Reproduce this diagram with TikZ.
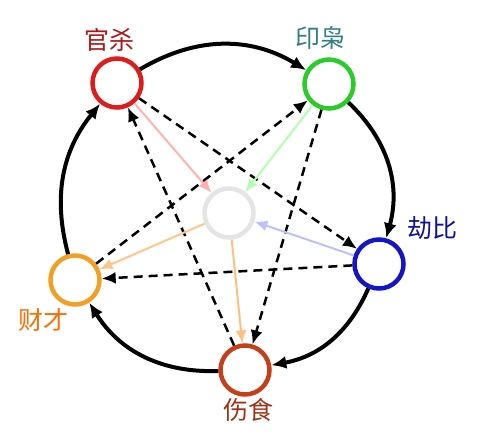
\documentclass[tikz,border=0pt]{standalone}
\usepackage{fontspec}
\usepackage{tikz}
\usetikzlibrary{arrows.meta}
\newfontfamily\cjk{Noto Sans CJK SC}
\definecolor{guan}{HTML}{DD1C1C}
\definecolor{yin}{HTML}{2ACC2A}
\definecolor{jie}{HTML}{1414C8}
\definecolor{shang}{HTML}{C4401A}
\definecolor{cai}{HTML}{F0A024}
\definecolor{hub}{HTML}{E4E4E4}
\tikzstyle{basis}=[circle, draw, line width=4.5pt, minimum size=49pt, inner sep=0pt]
\tikzstyle{tag}=[font=\cjk\fontsize{25}{25}\selectfont, inner sep=0pt]
\tikzstyle{ring}=[line width=4pt, -{Latex[length=15pt, width=13pt]}]
\tikzstyle{chord}=[line width=2.5pt, dash pattern=on 9pt off 6pt, -{Latex[length=14pt, width=12pt]}]
\tikzstyle{spoke}=[line width=2pt, -{Latex[length=13pt, width=11pt]}]
\begin{document}
\begin{tikzpicture}[x=1pt, y=-1pt]
                \useasboundingbox (0, 0) rectangle (484, 446);
                \node[basis, draw=guan]  (g) at (117, 83)  {};
                \node[basis, draw=yin]   (y) at (329, 84)  {};
                \node[basis, draw=jie]   (j) at (379, 264) {};
                \node[basis, draw=shang] (s) at (245, 370) {};
                \node[basis, draw=cai]   (c) at (75, 280)  {};
                \node[basis, draw=hub]   (h) at (229, 213) {};
                \node[tag, text=guan!80!black]       (gt) at (109, 40)  {官杀};
                \node[tag, text=teal!60!gray]        (yt) at (320, 38)  {印枭};
                \node[tag, text=jie!80!black]        (jt) at (432, 228) {劫比};
                \node[tag, text=orange!85!red]       (ct) at (43, 320)  {财才};
                \node[tag, text=shang!80!black]      (st) at (248, 410) {伤食};
                % outer ring
                \draw[ring] (g) to[bend left=31] (y);
                \draw[ring] (y) to[bend left=31] (j);
                \draw[ring] (j) to[bend left=28] (s);
                \draw[ring] (s) to[bend left=30] (c);
                \draw[ring] (c) to[bend left=27] (g);
                % star
                \draw[chord] (g)--(j);
                \draw[chord] (y)--(s);
                \draw[chord] (j)--(c);
                \draw[chord] (s)--(g);
                \draw[chord] (c)--(y);
                % spokes
                \draw[spoke, color=red!30!white]    (g)--(h);
                \draw[spoke, color=green!30!white]  (y)--(h);
                \draw[spoke, color=blue!25!white]   (j)--(h);
                \draw[spoke, color=orange!45!white] (h)--(c);
                \draw[spoke, color=orange!50!white] (h)--(s);
            \end{tikzpicture}
\end{document}
